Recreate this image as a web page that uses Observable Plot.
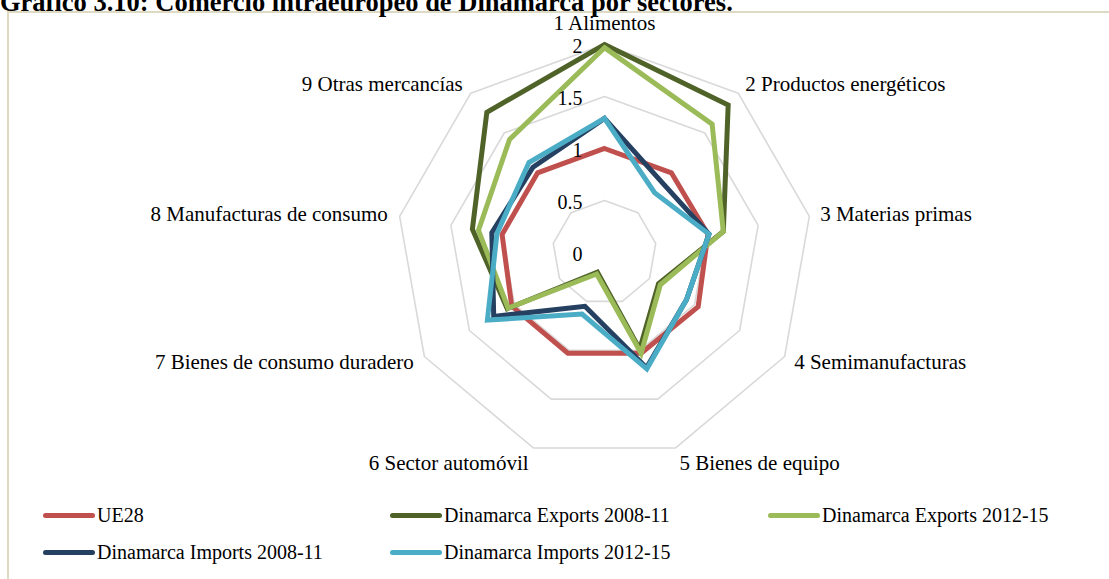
<!DOCTYPE html>
<html>
<head>
<meta charset="utf-8">
<script src="https://cdn.jsdelivr.net/npm/d3@7"></script>
<script src="https://cdn.jsdelivr.net/npm/@observablehq/plot@0.6"></script>
<style>
  html, body { margin: 0; padding: 0; background: #fff; }
  body { width: 1109px; height: 579px; overflow: hidden; position: relative; font-family: "Liberation Serif", "Times New Roman", serif; }
  #frame { position: absolute; left: 7px; top: 11px; width: 1200px; height: 700px; border-left: 2px solid #DDD9C3; border-top: 2px solid #DDD9C3; box-sizing: border-box; }
  #title { position: absolute; left: 0; top: -13px; line-height: 30px; font-size: 26.5px; font-weight: bold; white-space: nowrap; color: #000; z-index: 3; }
  #chart { position: absolute; left: 0; top: 0; z-index: 2; }
  #legend { position: absolute; left: 0; top: 0; width: 1109px; height: 579px; z-index: 2; pointer-events: none; }
  .item { position: absolute; display: flex; align-items: center; font-size: 20px; color: #000; white-space: nowrap; }
  .sw { width: 52px; height: 5px; border-radius: 3px; margin-right: 2px; }
</style>
</head>
<body>
<div id="frame"></div>
<div id="title">Gráfico 3.10: Comercio intraeuropeo de Dinamarca por sectores.</div>
<div id="chart"></div>
<div id="legend"></div>
<script>
// ---- data ----
const categories = [
  "1 Alimentos",
  "2 Productos energéticos",
  "3 Materias primas",
  "4 Semimanufacturas",
  "5 Bienes de equipo",
  "6 Sector automóvil",
  "7 Bienes de consumo duradero",
  "8 Manufacturas de consumo",
  "9 Otras mercancías"
];
const seriesNames = [
  "UE28",
  "Dinamarca Exports 2008-11",
  "Dinamarca Exports 2012-15",
  "Dinamarca Imports 2008-11",
  "Dinamarca Imports 2012-15"
];
const ue28          = [1.00, 1.00, 1.01, 1.04, 1.03, 1.03, 1.03, 1.00, 1.00];
const exports0811   = [2.00, 1.85, 1.16, 0.60, 0.99, 0.20, 1.08, 1.29, 1.76];
const exports1215   = [1.97, 1.61, 1.16, 0.62, 1.03, 0.22, 1.07, 1.23, 1.42];
const imports0811   = [1.29, 0.87, 1.02, 0.91, 1.18, 0.55, 1.23, 1.10, 1.07];
const imports1215   = [1.29, 0.75, 1.02, 0.91, 1.19, 0.63, 1.30, 1.05, 1.13];
const radialTicks   = [0, 0.5, 1, 1.5, 2];
const tickLabels    = ["0", "0.5", "1", "1.5", "2"];

// ---- styles / layout ----
const colors = ["#C0504D", "#4F6228", "#9BBB59", "#254061", "#4BACC6"];
const cx = 604, cy = 252, R = 208, maxV = 2;

const seriesValues = [ue28, exports0811, exports1215, imports0811, imports1215];
const n = categories.length;
const ang = i => 2 * Math.PI * i / n;

const points = [];
seriesNames.forEach((s, k) => {
  seriesValues[k].forEach((v, i) => {
    points.push({series: s, cat: categories[i], value: v, x: v * Math.sin(ang(i)), y: v * Math.cos(ang(i))});
  });
});

const grid = [];
radialTicks.filter(t => t > 0).forEach(t => {
  for (let i = 0; i < n; i++) grid.push({level: t, x: t * Math.sin(ang(i)), y: t * Math.cos(ang(i))});
});

const catLabels = categories.map((c, i) => {
  const s = Math.sin(ang(i)), co = Math.cos(ang(i));
  let extra = co > 0.95 ? -10 : (co < -0.9 ? 5 : 0);
  return {
    text: c, x: maxV * s, y: maxV * co,
    anchor: Math.abs(s) < 0.05 ? "middle" : (s > 0 ? "start" : "end"),
    dx: 11 * s + (Math.abs(s) < 0.05 ? 0 : (s > 0 ? 0 : -1)),
    dy: -11 * co + extra
  };
});

const ticks = radialTicks.map((t, i) => ({v: t, label: tickLabels[i]}));

const chart = Plot.plot({
  width: 1109,
  height: 480,
  margin: 0,
  style: {fontFamily: "Liberation Serif, Times New Roman, serif", fontSize: "20px", background: "transparent", color: "#000"},
  x: {domain: [-maxV, maxV], range: [cx - R, cx + R], axis: null},
  y: {domain: [-maxV, maxV], range: [cy + R, cy - R], axis: null},
  color: {domain: seriesNames, range: colors},
  marks: [
    Plot.line(grid, {x: "x", y: "y", z: "level", curve: "linear-closed", stroke: "#D9D9D9", strokeWidth: 1.6}),
    Plot.line(points, {x: "x", y: "y", z: "series", stroke: "series", curve: "linear-closed", strokeWidth: 5, strokeLinejoin: "miter", strokeMiterlimit: 3}),
    Plot.text(ticks, {x: () => 0, y: "v", text: "label", dx: -22, dy: 2, textAnchor: "end", fontSize: 20, fill: "#000"}),
    ...catLabels.map(d => Plot.text([d], {x: "x", y: "y", text: "text", textAnchor: d.anchor, dx: d.dx, dy: d.dy, fontSize: 21, fill: "#000"}))
  ]
});
document.getElementById("chart").appendChild(chart);

// legend
const legendPos = [[43, 515], [390, 515], [768, 515], [43, 552], [390, 552]];
const leg = document.getElementById("legend");
seriesNames.forEach((s, k) => {
  const el = document.createElement("div");
  el.className = "item";
  el.style.left = legendPos[k][0] + "px";
  el.style.top = (legendPos[k][1] - 12) + "px";
  el.style.height = "24px";
  const sw = document.createElement("div");
  sw.className = "sw";
  sw.style.background = colors[k];
  el.appendChild(sw);
  const t = document.createElement("span");
  t.textContent = s;
  el.appendChild(t);
  leg.appendChild(el);
});
</script>
</body>
</html>
